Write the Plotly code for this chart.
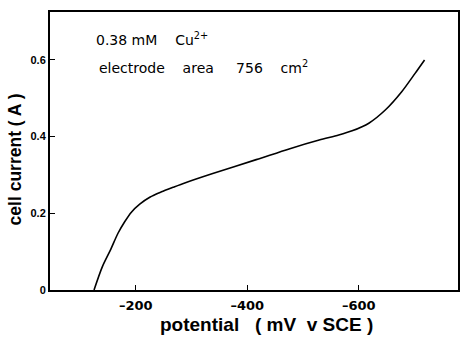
import plotly.graph_objects as go

# data
potential_mV = [-125, -140, -155, -168, -180, -192, -207, -225, -246, -267, -289,
                -338, -416, -475, -529, -564, -588, -618, -648, -677, -701, -718]
current_A = [0.0, 0.061, 0.106, 0.148, 0.178, 0.203, 0.224, 0.242, 0.256, 0.268, 0.280,
             0.304, 0.340, 0.368, 0.391, 0.404, 0.415, 0.435, 0.470, 0.517, 0.565, 0.600]

x_tickvals = [-200, -400, -600]
x_ticktext = ["\u2013200", "\u2013400", "\u2013600"]
y_tickvals = [0, 0.2, 0.4, 0.6]
y_ticktext = ["0", "0.2", "0.4", "0.6"]

fig = go.Figure()
fig.add_trace(go.Scatter(
    x=potential_mV, y=current_A, mode="lines",
    line=dict(color="black", width=1.6, shape="spline", smoothing=0.8),
    showlegend=False,
))

font_main = "Liberation Sans, Arial, sans-serif"
font_note = "DejaVu Sans, sans-serif"

fig.update_layout(
    width=462, height=339,
    margin=dict(l=50, r=2, t=12, b=49),
    paper_bgcolor="white", plot_bgcolor="white",
    font=dict(family=font_main, color="black"),
    xaxis=dict(
        range=[-46, -778], showgrid=False, zeroline=False,
        showline=True, linecolor="black", linewidth=2, mirror=True,
        ticks="inside", ticklen=5, tickwidth=1.2, tickcolor="black",
        tickvals=x_tickvals, ticktext=x_ticktext,
        tickfont=dict(size=13, family="DejaVu Sans, sans-serif", weight="bold"),
        ticklabelstandoff=2,
    ),
    yaxis=dict(
        range=[0, 0.725], showgrid=False, zeroline=False,
        showline=True, linecolor="black", linewidth=2, mirror=True,
        ticks="inside", ticklen=5, tickwidth=1.2, tickcolor="black",
        tickvals=y_tickvals, ticktext=y_ticktext,
        tickfont=dict(size=11, family=font_main, weight="bold"),
        ticklabelstandoff=0,
    ),
)

# axis titles
fig.add_annotation(
    xref="paper", yref="paper", x=0.530, y=-0.125, xanchor="center", yanchor="middle",
    text="<b>potential   ( mV  v SCE )</b>", showarrow=False,
    font=dict(size=19, family=font_main),
)
fig.add_annotation(
    xref="paper", yref="paper", x=-0.085, y=0.471, xanchor="center", yanchor="middle",
    text="<b>cell current ( A )</b>", showarrow=False, textangle=-90,
    font=dict(size=17.5, family=font_main),
)

# notes
fig.add_annotation(
    xref="x", yref="y", x=-125, y=0.655, xanchor="left", yanchor="middle",
    text="0.38 mM    Cu<sup>2+</sup>", showarrow=False,
    font=dict(size=14, family=font_note),
)
fig.add_annotation(
    xref="x", yref="y", x=-130, y=0.582, xanchor="left", yanchor="middle",
    text="electrode    area     756    cm<sup>2</sup>", showarrow=False,
    font=dict(size=14, family=font_note),
)

fig.write_html("out.html")
